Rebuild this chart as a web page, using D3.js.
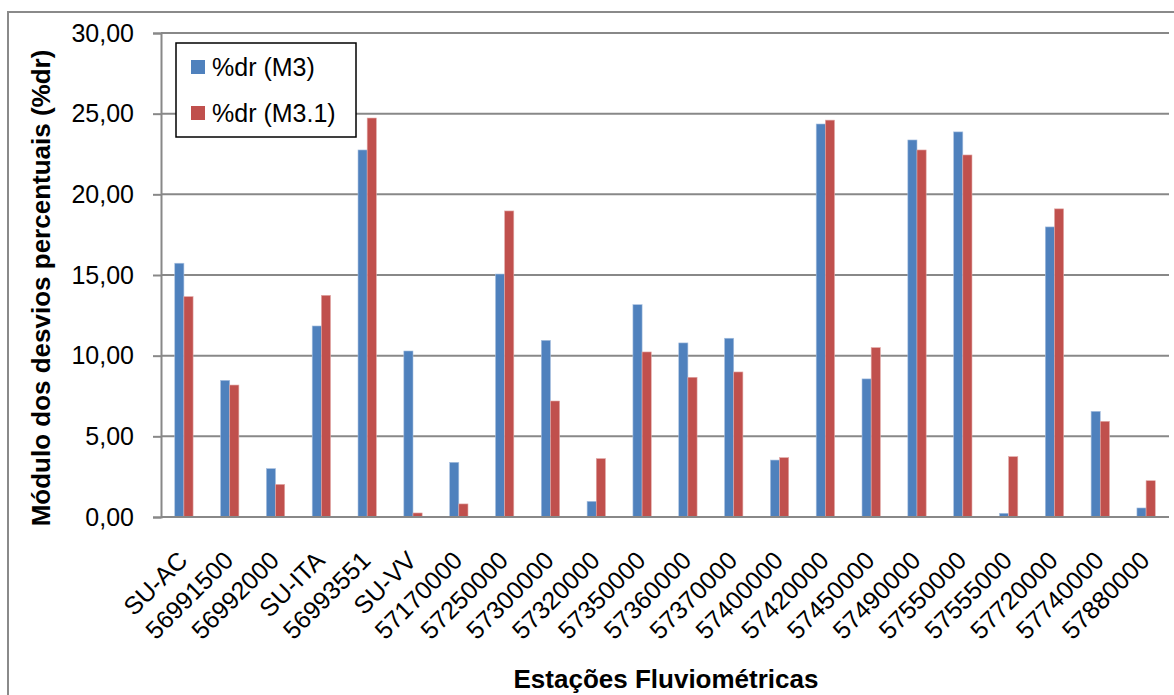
<!DOCTYPE html>
<html>
<head>
<meta charset="utf-8">
<script src="https://cdn.jsdelivr.net/npm/d3@7"></script>
<style>
  html, body { margin: 0; padding: 0; background: #fff; }
  svg { display: block; font-family: "Liberation Sans", Arial, sans-serif; }
</style>
</head>
<body>
<svg id="chart" width="1174" height="695"></svg>
<script>
const categories = ["SU-AC","56991500","56992000","SU-ITA","56993551","SU-VV","57170000","57250000","57300000","57320000","57350000","57360000","57370000","57400000","57420000","57450000","57490000","57550000","57555000","57720000","57740000","57880000"];
const seriesNames = ["%dr (M3)", "%dr (M3.1)"];
const valuesM3  = [15.73, 8.47, 3.00, 11.84, 22.75, 10.29, 3.39, 15.06, 10.95, 0.97, 13.16, 10.79, 11.08, 3.53, 24.36, 8.56, 23.37, 23.87, 0.23, 17.98, 6.55, 0.56];
const valuesM31 = [13.66, 8.18, 2.02, 13.74, 24.73, 0.25, 0.81, 18.97, 7.19, 3.62, 10.23, 8.66, 8.99, 3.68, 24.60, 10.50, 22.75, 22.44, 3.74, 19.10, 5.93, 2.25];
const yTicks = [0, 5, 10, 15, 20, 25, 30];
const colors = ["#4F81BD", "#C0504D"];

(function () {
const svg = d3.select("#chart");
const pLeft = 161, pRight = 1169, pTop = 33, pBottom = 517;

// outer chart border
svg.append("rect").attr("x", 8).attr("y", 12).attr("width", 1300).attr("height", 900)
  .attr("fill", "none").attr("stroke", "#8a8a8a").attr("stroke-width", 2);

const x = d3.scaleBand().domain(categories).range([pLeft, pRight]).paddingInner(0.6).paddingOuter(0.3);
const xCat = d3.scaleBand().domain(categories).range([pLeft, pRight]);
const xSub = d3.scaleBand().domain([0, 1]).range([0, x.bandwidth()]);
const y = d3.scaleLinear().domain([0, 30]).range([pBottom, pTop]);

const fmt = v => d3.format(".2f")(v).replace(".", ",");

// gridlines
svg.append("g").selectAll("line").data(yTicks.filter(t => t > 0)).join("line")
  .attr("x1", pLeft).attr("x2", pRight)
  .attr("y1", d => y(d)).attr("y2", d => y(d))
  .attr("stroke", "#888").attr("stroke-width", 2);

// y axis
const yAxis = svg.append("g").attr("transform", `translate(${pLeft},0)`)
  .call(d3.axisLeft(y).tickValues(yTicks).tickFormat(fmt).tickSize(8).tickPadding(19));
yAxis.select(".domain").attr("stroke", "#888").attr("stroke-width", 2);
yAxis.selectAll(".tick line").attr("stroke", "#888").attr("stroke-width", 2);
yAxis.selectAll(".tick text").attr("font-size", 25).attr("fill", "#000")
  .attr("font-family", "Liberation Sans, Arial, sans-serif");

// bars
const series = [valuesM3, valuesM31];
series.forEach((vals, si) => {
  svg.append("g").selectAll("rect").data(vals).join("rect")
    .attr("x", (d, i) => x(categories[i]) + xSub(si))
    .attr("width", xSub.bandwidth())
    .attr("y", d => y(d))
    .attr("height", d => y(0) - y(d))
    .attr("fill", colors[si])
    .attr("stroke", si === 0 ? "#a9c1e0" : "#e2a9a7").attr("stroke-width", 0.6);
});

// x axis line
svg.append("line").attr("x1", pLeft).attr("x2", pRight).attr("y1", y(0)).attr("y2", y(0))
  .attr("stroke", "#888").attr("stroke-width", 2);

// x labels
svg.append("g").selectAll("text").data(categories).join("text")
  .attr("transform", d => `translate(${xCat(d) + xCat.bandwidth() / 2 + 5},562) rotate(-45)`)
  .attr("text-anchor", "end").attr("font-size", 25).attr("fill", "#000")
  .text(d => d);

// axis titles
svg.append("text").attr("x", 666).attr("y", 688).attr("text-anchor", "middle")
  .attr("font-size", 26).attr("font-weight", "bold").text("Estações Fluviométricas");
svg.append("text").attr("transform", "translate(50,288) rotate(-90)").attr("text-anchor", "middle")
  .attr("font-size", 26).attr("font-weight", "bold").text("Módulo dos desvios percentuais (%dr)");

// legend
const lg = svg.append("g");
lg.append("rect").attr("x", 176).attr("y", 43).attr("width", 180).attr("height", 94)
  .attr("fill", "#fff").attr("stroke", "#000").attr("stroke-width", 1.5);
seriesNames.forEach((n, i) => {
  lg.append("rect").attr("x", 191).attr("y", 60 + i * 46).attr("width", 14).attr("height", 14)
    .attr("fill", colors[i]);
  lg.append("text").attr("x", 212).attr("y", 76 + i * 46).attr("font-size", 25).attr("fill", "#000").text(n);
});
})();
</script>
</body>
</html>
